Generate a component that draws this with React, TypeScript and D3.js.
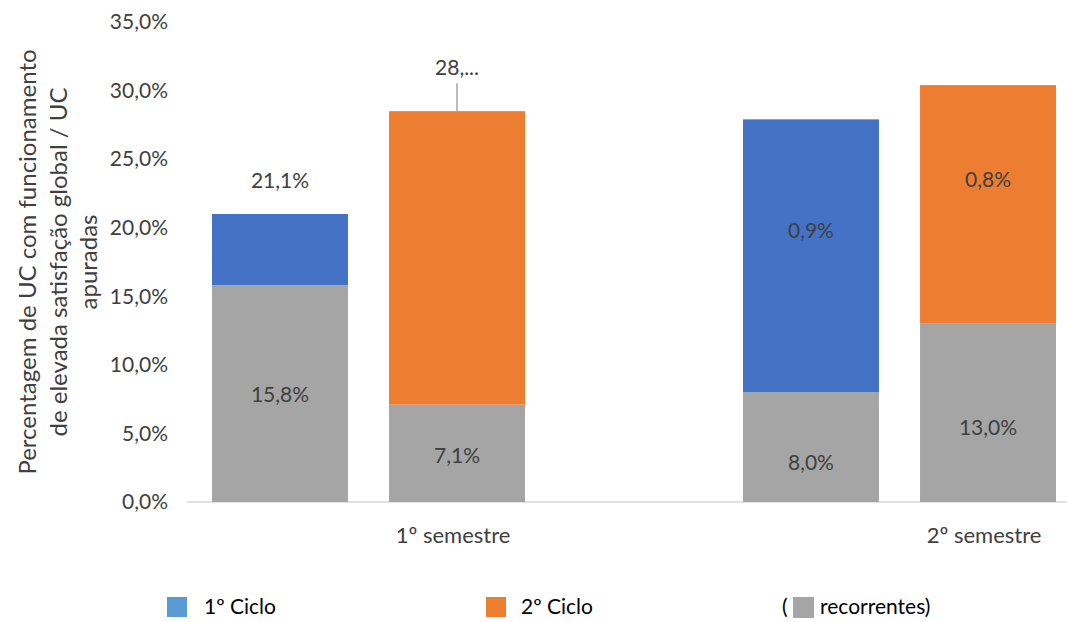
import React from "react";
import * as d3 from "d3";

const semesters = ["1º semestre", "2º semestre"];
const cycles = ["1º Ciclo", "2º Ciclo"];
// recorrentes (gray, bottom) values per semester per cycle
const recorrentes = [
  [15.8, 7.1],
  [8.0, 13.0],
];
// totals (top of stacked bar)
const totals = [
  [21.0, 28.5],
  [27.9, 30.4],
];
const topLabels = [
  ["21,1%", "28,..."],
  ["0,9%", "0,8%"],
];
const bottomLabels = [
  ["15,8%", "7,1%"],
  ["8,0%", "13,0%"],
];
// label anchor values in data units
const topLabelAnchor = [
  [23.4, 31.7],
  [19.8, 23.5],
];
const bottomLabelAnchor = [
  [7.8, 3.4],
  [2.9, 5.4],
];
const yTicks = [0, 5, 10, 15, 20, 25, 30, 35];
const legendItems = [
  { label: "1º Ciclo", color: "#5B9BD5" },
  { label: "2º Ciclo", color: "#ED7D31" },
  { label: "recorrentes)", color: "#A5A5A5" },
];

const cycleColors = ["#4472C4", "#ED7D31"];
const gray = "#A5A5A5";
const textColor = "#404040";
const font = "Lato, 'Open Sans', sans-serif";

export default function App() {
  const W = 1067;
  const H = 622;
  const y = d3.scaleLinear().domain([0, 35]).range([502, 22]);
  const groupX = d3.scaleLinear().domain([0, 1]).range([212, 743]);
  const inner = d3.scaleBand<string>().domain(cycles).range([0, 313]).paddingInner(0.232).paddingOuter(0);
  const bw = inner.bandwidth();
  const fmt = (v: number) => d3.format(".1f")(v).replace(".", ",") + "%";

  return (
    <svg width={W} height={H} style={{ position: "absolute", left: 0, top: 0, fontFamily: font }}>
      <rect width={W} height={H} fill="#fff" />
      {yTicks.map((t) => (
        <text key={t} x={168} y={y(t)} dy="0.35em" textAnchor="end" fontSize={21} fill={textColor}>
          {fmt(t)}
        </text>
      ))}
      <line x1={187} x2={W} y1={y(0)} y2={y(0)} stroke="#D9D9D9" strokeWidth={1.5} />
      {semesters.map((s, si) =>
        cycles.map((c, ci) => {
          const x0 = groupX(si) + (inner(c) as number);
          const cx = x0 + bw / 2;
          const g = recorrentes[si][ci];
          const t = totals[si][ci];
          const isTrunc = topLabels[si][ci].includes("...");
          return (
            <g key={s + c}>
              <rect x={x0} y={y(g)} width={bw} height={y(0) - y(g)} fill={gray} />
              <rect x={x0} y={y(t)} width={bw} height={y(g) - y(t)} fill={cycleColors[ci]} />
              <text x={cx} y={y(bottomLabelAnchor[si][ci])} dy="0.35em" textAnchor="middle" fontSize={21} fill={textColor}>
                {bottomLabels[si][ci]}
              </text>
              <text x={cx} y={y(topLabelAnchor[si][ci])} dy="0.35em" textAnchor="middle" fontSize={21} fill={textColor}>
                {topLabels[si][ci]}
              </text>
              {isTrunc && (
                <line x1={cx} x2={cx} y1={y(topLabelAnchor[si][ci]) + 16} y2={y(t)} stroke="#A5A5A5" strokeWidth={1.5} />
              )}
            </g>
          );
        })
      )}
      {semesters.map((s, si) => (
        <text key={s} x={groupX(si) + (inner(cycles[1]) as number) + bw / 2 - 4} y={535} dy="0.35em" textAnchor="middle" fontSize={22} fill={textColor}>
          {s}
        </text>
      ))}
      <g transform="translate(0,262) rotate(-90)" fill={textColor} fontSize={24} textAnchor="middle">
        <text x={0} y={28} dy="0.35em">Percentagem de UC com funcionamento</text>
        <text x={0} y={59} dy="0.35em">de elevada satisfação global / UC</text>
        <text x={0} y={89} dy="0.35em">apuradas</text>
      </g>
      {/* legend */}
      <rect x={167} y={597} width={20} height={20} fill={legendItems[0].color} />
      <text x={204} y={607} dy="0.35em" fontSize={21} fill="#000">{legendItems[0].label}</text>
      <rect x={486} y={597} width={20} height={20} fill={legendItems[1].color} />
      <text x={521} y={607} dy="0.35em" fontSize={21} fill="#000">{legendItems[1].label}</text>
      <text x={782} y={607} dy="0.35em" fontSize={21} fill="#000">(</text>
      <rect x={793} y={597} width={21} height={21} fill={legendItems[2].color} />
      <text x={820} y={607} dy="0.35em" fontSize={21} fill="#000">{legendItems[2].label}</text>
    </svg>
  );
}
